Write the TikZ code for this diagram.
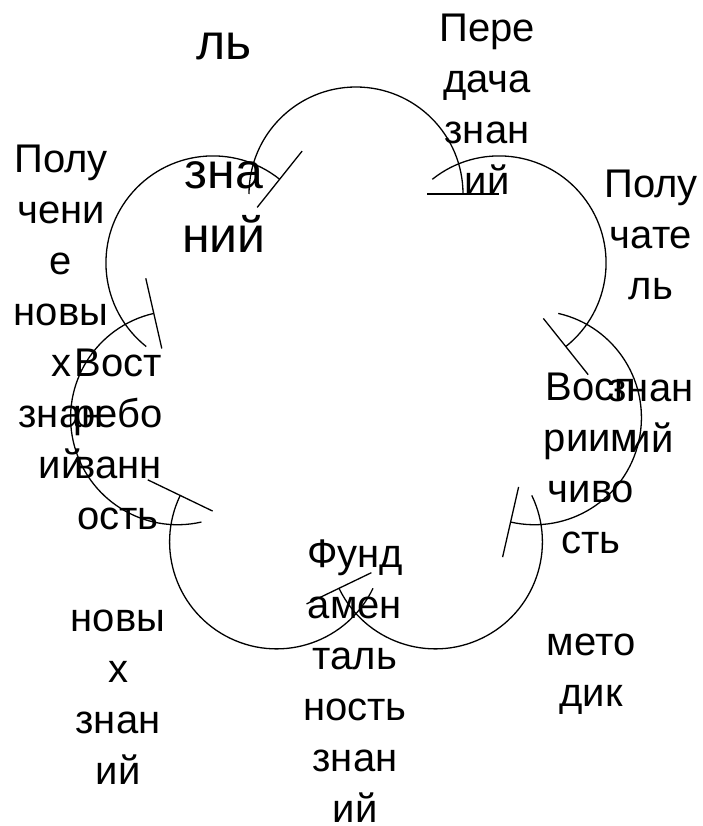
\documentclass[tikz,border=0pt]{standalone}
\usepackage{fontspec}
\setmainfont{Liberation Sans}
\usepackage{tikz}
\usetikzlibrary{calc}
\tikzset{
  petal/.style={line width=1.3pt,draw=black},
  petalbar/.style={line width=1.3pt,draw=black},
  lbl/.style={align=center,inner sep=0pt,anchor=base,text=black,
              font=\fontsize{40}{51}\selectfont},
  lblbig/.style={lbl,font=\fontsize{50}{64}\selectfont}
}

\begin{document}
\begin{tikzpicture}[x=1pt,y=1pt]
  \useasboundingbox (0,0) rectangle (703,-826);
  \coordinate (ctr) at (356,-377);
  % seven petals, clockwise, bar at the leading end
  \foreach \i in {0,...,6}{
    \pgfmathsetmacro{\dir}{90-\i*360/7}
    \coordinate (p\i) at ($(ctr)+(\dir:183)$);
    \draw[petal] ($(p\i)+(\dir+90:107)$) arc[start angle=\dir+90,end angle=\dir-90,radius=107];
    \draw[petalbar] ($(p\i)+(\dir-90:71)$) -- ($(p\i)+(\dir-90:143)$);
  }
  % labels, placed by the baseline of their last line
  \node[lblbig] (keeper) at (224,-252) {ль\\ \\зна\\ний};
  \node[lbl] (transfer) at (487,-195) {Пере\\дача\\знан\\ий};
  \node[lbl] (receiver) at (651,-452) {Полу\\чате\\ль\\ \\знан\\ий};
  \node[lbl] (recept) at (591,-706) {Восп\\риим\\чиво\\сть\\ \\мето\\дик};
  \node[lbl] (fundam) at (355,-822) {Фунд\\амен\\таль\\ность\\знан\\ий};
  \node[lbl] (demand) at (118,-784) {Вост\\ребо\\ванн\\ость\\ \\новы\\х\\знан\\ий};
  \node[lbl] (gain) at (61,-478) {Полу\\чени\\е\\новы\\х\\знан\\ий};
\end{tikzpicture}
\end{document}
